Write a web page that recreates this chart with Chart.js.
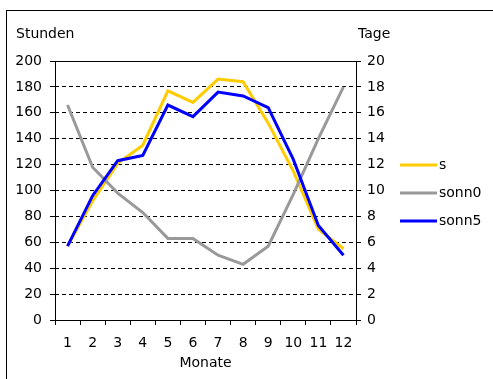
<!DOCTYPE html>
<html>
<head>
<meta charset="utf-8">
<script src="https://cdn.jsdelivr.net/npm/chart.js@4/dist/chart.umd.min.js"></script>
<style>
html,body{margin:0;padding:0;background:#fff;}
#wrap{position:absolute;left:0;top:0;width:493px;height:379px;}
</style>
</head>
<body>
<div id="wrap"><canvas id="c" width="493" height="379"></canvas></div>
<script>
const months = ['1','2','3','4','5','6','7','8','9','10','11','12'];
const s      = [57, 92, 121, 135, 177, 168, 186, 184, 152, 115, 70, 55];
const sonn0  = [16.6, 11.8, 9.8, 8.3, 6.3, 6.3, 5.0, 4.3, 5.7, 9.7, 14.0, 18.0];
const sonn5  = [57, 96, 123, 127, 166, 157, 176, 173, 164, 124, 73, 50];
const leftTitle = 'Stunden';
const rightTitle = 'Tage';
const xTitle = 'Monate';

const FONT = {family: '"DejaVu Sans", sans-serif', size: 14};
const FONTSTR = '14px "DejaVu Sans", sans-serif';

const extras = {
  id: 'extras',
  beforeDraw(chart) {
    const ctx = chart.ctx;
    ctx.save();
    ctx.fillStyle = '#fff';
    ctx.fillRect(0, 0, chart.width, chart.height);
    ctx.strokeStyle = '#000';
    ctx.lineWidth = 1;
    ctx.strokeRect(6.5, 10.5, 700, 500);
    ctx.restore();
  },
  afterDraw(chart) {
    const ctx = chart.ctx;
    const a = chart.chartArea;
    ctx.save();
    ctx.strokeStyle = '#000';
    ctx.lineWidth = 1;
    ctx.setLineDash([]);
    ctx.strokeRect(Math.round(a.left) + 0.5, Math.round(a.top) + 0.5,
                   Math.round(a.right - a.left), Math.round(a.bottom - a.top));
    ctx.fillStyle = '#000';
    ctx.font = FONTSTR;
    ctx.textBaseline = 'middle';
    ctx.textAlign = 'left';
    ctx.fillText(leftTitle, 16, 34);
    ctx.fillText(rightTitle, 358, 34);
    const ds = chart.data.datasets;
    const ys = [165, 193, 221];
    ds.forEach((d, i) => {
      ctx.strokeStyle = d.borderColor;
      ctx.lineWidth = 3;
      ctx.beginPath();
      ctx.moveTo(400, ys[i]);
      ctx.lineTo(437, ys[i]);
      ctx.stroke();
      ctx.fillStyle = '#000';
      ctx.fillText(d.label, 439, ys[i]);
    });
    ctx.restore();
  }
};

new Chart(document.getElementById('c'), {
  type: 'line',
  data: {
    labels: months,
    datasets: [
      {label: 's', data: s, borderColor: '#FFCC00', yAxisID: 'y', order: 2},
      {label: 'sonn0', data: sonn0, borderColor: '#999999', yAxisID: 'y1', order: 1},
      {label: 'sonn5', data: sonn5, borderColor: '#0000FF', yAxisID: 'y', order: 0}
    ]
  },
  options: {
    responsive: false,
    animation: false,
    devicePixelRatio: 1,
    elements: {
      line: {borderWidth: 3, tension: 0, fill: false},
      point: {radius: 0, hoverRadius: 0}
    },
    layout: {padding: {left: 0, top: 61, right: 97, bottom: 0}},
    plugins: {legend: {display: false}, tooltip: {enabled: false}},
    scales: {
      x: {
        offset: true,
        grid: {offset: true, drawOnChartArea: false, drawTicks: true, tickLength: 5, color: '#000'},
        border: {display: false},
        ticks: {color: '#000', font: FONT, padding: 10, maxRotation: 0, autoSkip: false},
        title: {display: true, text: xTitle, color: '#000', font: FONT, padding: {top: 0, bottom: 7}},
        afterFit(sc) { sc.height = 59; }
      },
      y: {
        position: 'left',
        min: 0, max: 200,
        ticks: {stepSize: 20, color: '#000', font: FONT, padding: 8},
        grid: {color: '#000', tickLength: 5, tickBorderDash: []},
        border: {display: false, dash: [4, 3]},
        afterFit(sc) { sc.width = 55; }
      },
      y1: {
        position: 'right',
        min: 0, max: 20,
        ticks: {stepSize: 2, color: '#000', font: FONT, padding: 6},
        grid: {drawOnChartArea: false, color: '#000', tickLength: 5},
        border: {display: false},
        afterFit(sc) { sc.width = 40; }
      }
    }
  },
  plugins: [extras]
});
</script>
</body>
</html>
